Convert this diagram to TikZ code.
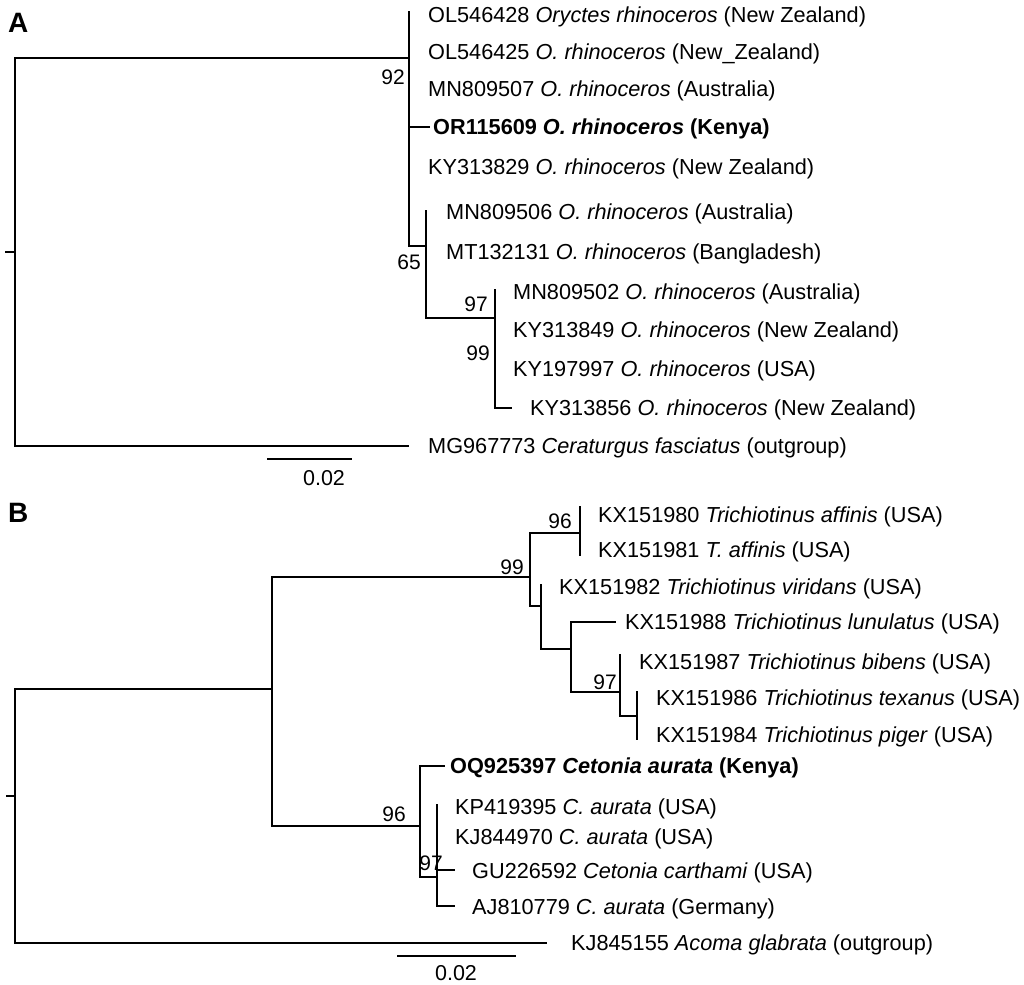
\documentclass[tikz,border=0pt]{standalone}
\usepackage{fontspec}
\setmainfont{Liberation Sans}
\begin{document}
\begin{tikzpicture}[x=1pt,y=-1pt,
  br/.style={line width=2.2pt},
  sbar/.style={line width=1.6pt},
  lab/.style={anchor=base west, inner sep=0pt, font=\fontsize{21.7}{25}\selectfont},
  boot/.style={anchor=base east, inner sep=0pt, font=\fontsize{21}{24}\selectfont},
  sclab/.style={anchor=base, inner sep=0pt, font=\fontsize{21.5}{25}\selectfont},
  panel/.style={anchor=base west, inner sep=0pt, font=\fontsize{28}{30}\selectfont\bfseries}]
\useasboundingbox (0,0) rectangle (1024,984);

% ---------------- Panel A ----------------
\node[panel] (PA) at (8,33) {A};
\coordinate (rA) at (15,252);
\coordinate (rAt) at (5,252);
\coordinate (n92) at (409,58);
\coordinate (a1) at (409,11);
\coordinate (a2) at (409,52);
\coordinate (a3) at (409,89);
\coordinate (a4) at (430,127);
\coordinate (a5) at (409,167);
\coordinate (n65) at (426,246);
\coordinate (a6) at (426,210);
\coordinate (a7) at (426,252);
\coordinate (n97) at (495,318);
\coordinate (a8) at (495,289);
\coordinate (a9) at (495,330);
\coordinate (a10) at (495,369);
\coordinate (a11) at (512,408);
\coordinate (a12) at (409,446);

\draw[br] (rA) -- (rAt);
\draw[br] (rA) |- (n92);
\draw[br] (rA) |- (a12);
\foreach \c in {a1,a2,a3,a4,a5,n65} \draw[br] (n92) |- (\c);
\foreach \c in {a6,a7,n97} \draw[br] (n65) |- (\c);
\foreach \c in {a8,a9,a10,a11} \draw[br] (n97) |- (\c);

\node[lab] (LA1) at (428,22.5) {OL546428 \textit{Oryctes rhinoceros} (New Zealand)};
\node[lab] (LA2) at (428,59.5) {OL546425 \textit{O. rhinoceros} (New\_Zealand)};
\node[lab] (LA3) at (428,96.5) {MN809507 \textit{O. rhinoceros} (Australia)};
\node[lab] (LA4) at (433,134.5) {\bfseries OR115609 \textit{O. rhinoceros} (Kenya)};
\node[lab] (LA5) at (428,174.5) {KY313829 \textit{O. rhinoceros} (New Zealand)};
\node[lab] (LA6) at (446,219.5) {MN809506 \textit{O. rhinoceros} (Australia)};
\node[lab] (LA7) at (446,259.5) {MT132131 \textit{O. rhinoceros} (Bangladesh)};
\node[lab] (LA8) at (513,299.5) {MN809502 \textit{O. rhinoceros} (Australia)};
\node[lab] (LA9) at (513,337.5) {KY313849 \textit{O. rhinoceros} (New Zealand)};
\node[lab] (LA10) at (513,376.5) {KY197997 \textit{O. rhinoceros} (USA)};
\node[lab] (LA11) at (530,415.5) {KY313856 \textit{O. rhinoceros} (New Zealand)};
\node[lab] (LA12) at (428,453.5) {MG967773 \textit{Ceraturgus fasciatus} (outgroup)};

\node[boot] (BA92) at (405,84.5) {92};
\node[boot] (BA65) at (421,269.5) {65};
\node[boot] (BA97) at (488,311.5) {97};
\node[boot] (BA99) at (490,360.5) {99};

\coordinate (sA1) at (267,459);
\coordinate (sA2) at (352,459);
\draw[sbar] (sA1) -- (sA2);
\node[sclab] (SLA) at (324,485.5) {0.02};

% ---------------- Panel B ----------------
\node[panel] (PB) at (8,522) {B};
\coordinate (rB) at (15,796);
\coordinate (rBt) at (6,796);
\coordinate (nB1) at (272,689);
\coordinate (n99) at (530,577);
\coordinate (n96a) at (580,533);
\coordinate (nS) at (541,606);
\coordinate (nL) at (571,649);
\coordinate (n97b) at (620,692);
\coordinate (nTP) at (637,716);
\coordinate (n96b) at (420,826);
\coordinate (n97c) at (437,877);
\coordinate (b1) at (580,506);
\coordinate (b2) at (580,556);
\coordinate (b3) at (541,584);
\coordinate (b4) at (616,622);
\coordinate (b5) at (620,654);
\coordinate (b6) at (637,691);
\coordinate (b7) at (637,740);
\coordinate (b8) at (445,766);
\coordinate (b9) at (437,804);
\coordinate (b10) at (437,837);
\coordinate (b11) at (455,870);
\coordinate (b12) at (455,906);
\coordinate (b13) at (547,943);

\draw[br] (rB) -- (rBt);
\draw[br] (rB) |- (nB1);
\draw[br] (rB) |- (b13);
\foreach \c in {n99,n96b} \draw[br] (nB1) |- (\c);
\foreach \c in {n96a,nS} \draw[br] (n99) |- (\c);
\foreach \c in {b1,b2} \draw[br] (n96a) |- (\c);
\foreach \c in {b3,nL} \draw[br] (nS) |- (\c);
\foreach \c in {b4,n97b} \draw[br] (nL) |- (\c);
\foreach \c in {b5,nTP} \draw[br] (n97b) |- (\c);
\foreach \c in {b6,b7} \draw[br] (nTP) |- (\c);
\foreach \c in {b8,n97c} \draw[br] (n96b) |- (\c);
\foreach \c in {b9,b10,b11,b12} \draw[br] (n97c) |- (\c);

\node[lab] (LB1) at (598,522.5) {KX151980 \textit{Trichiotinus affinis} (USA)};
\node[lab] (LB2) at (598,557.5) {KX151981 \textit{T. affinis} (USA)};
\node[lab] (LB3) at (559,594.5) {KX151982 \textit{Trichiotinus viridans} (USA)};
\node[lab] (LB4) at (625,629.5) {KX151988 \textit{Trichiotinus lunulatus} (USA)};
\node[lab] (LB5) at (639,669.5) {KX151987 \textit{Trichiotinus bibens} (USA)};
\node[lab] (LB6) at (656,705.5) {KX151986 \textit{Trichiotinus texanus} (USA)};
\node[lab] (LB7) at (656,742.5) {KX151984 \textit{Trichiotinus piger} (USA)};
\node[lab] (LB8) at (450,773.5) {\bfseries OQ925397 \textit{Cetonia aurata} (Kenya)};
\node[lab] (LB9) at (455,814.5) {KP419395 \textit{C. aurata} (USA)};
\node[lab] (LB10) at (455,844.5) {KJ844970 \textit{C. aurata} (USA)};
\node[lab] (LB11) at (472,878.5) {GU226592 \textit{Cetonia carthami} (USA)};
\node[lab] (LB12) at (472,914.5) {AJ810779 \textit{C. aurata} (Germany)};
\node[lab] (LB13) at (571,950.5) {KJ845155 \textit{Acoma glabrata} (outgroup)};

\node[boot] (BB96a) at (572,528.5) {96};
\node[boot] (BB99) at (524,574.5) {99};
\node[boot] (BB97a) at (617,689.5) {97};
\node[boot] (BB96b) at (406,821.5) {96};
\node[boot] (BB97b) at (443,870.5) {97};

\coordinate (sB1) at (397,956);
\coordinate (sB2) at (516,956);
\draw[sbar] (sB1) -- (sB2);
\node[sclab] (SLB) at (456,980.5) {0.02};
\end{tikzpicture}
\end{document}
